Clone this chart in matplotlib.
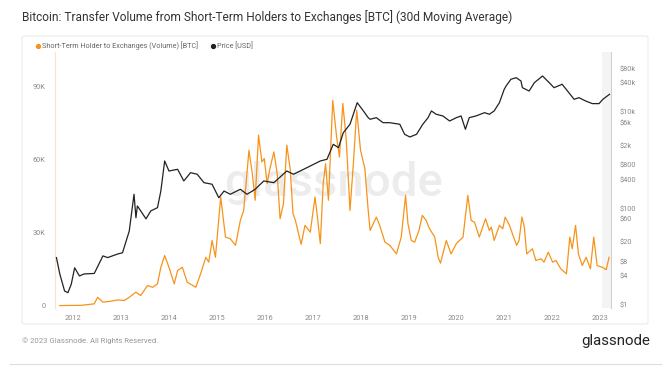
import matplotlib.pyplot as plt
from matplotlib.patches import FancyBboxPatch
from matplotlib.lines import Line2D

# short-term holder -> exchanges volume, 30d MA [BTC]
stfh_years = [2011.72, 2012.17, 2012.44, 2012.51, 2012.62, 2012.79, 2012.93, 2013.07, 2013.17, 2013.31,
              2013.41, 2013.55, 2013.66, 2013.76, 2013.83, 2013.91, 2014.00, 2014.11, 2014.18, 2014.28,
              2014.38, 2014.56, 2014.66, 2014.77, 2014.83, 2014.90, 2014.97, 2015.08, 2015.18, 2015.28,
              2015.39, 2015.49, 2015.56, 2015.67, 2015.74, 2015.80, 2015.87, 2015.94, 2015.99, 2016.05,
              2016.10, 2016.19, 2016.26, 2016.32, 2016.39, 2016.46, 2016.53, 2016.59, 2016.64, 2016.76,
              2016.84, 2016.95, 2017.05, 2017.10, 2017.16, 2017.22, 2017.27, 2017.33, 2017.42, 2017.50,
              2017.56, 2017.63, 2017.70, 2017.78, 2017.85, 2017.92, 2018.00, 2018.09, 2018.16, 2018.20,
              2018.33, 2018.40, 2018.51, 2018.61, 2018.75, 2018.85, 2018.94, 2018.99, 2019.06, 2019.13,
              2019.22, 2019.29, 2019.37, 2019.44, 2019.55, 2019.62, 2019.67, 2019.79, 2019.89, 2020.00,
              2020.14, 2020.24, 2020.31, 2020.38, 2020.48, 2020.61, 2020.69, 2020.73, 2020.79, 2020.90,
              2020.97, 2021.02, 2021.11, 2021.17, 2021.26, 2021.31, 2021.37, 2021.42, 2021.47, 2021.59,
              2021.66, 2021.77, 2021.83, 2021.92, 2022.01, 2022.08, 2022.18, 2022.30, 2022.37, 2022.42,
              2022.49, 2022.55, 2022.63, 2022.71, 2022.80, 2022.87, 2022.94, 2023.05, 2023.13, 2023.19]
stfh_volume = [0, 100, 700, 3400, 1400, 1800, 2300, 2100, 3400, 5500,
               4100, 8200, 7500, 8900, 15700, 20500, 15700, 8900, 14400, 15700,
               9600, 7500, 13000, 19800, 17800, 26700, 19800, 44500, 28100, 27400,
               24700, 34900, 39000, 63700, 54100, 43200, 69900, 58900, 60300, 50000,
               55500, 63000, 54100, 35600, 41800, 65800, 56200, 37700, 34900, 25100,
               32900, 30100, 44500, 36300, 25400, 50000, 58200, 43200, 84200, 69200,
               60900, 82900, 68500, 39000, 58200, 80100, 63700, 56200, 39000, 30800,
               36300, 32900, 26000, 24700, 21200, 28100, 45200, 33600, 26700, 26000,
               30800, 37000, 34900, 31500, 28100, 19800, 17400, 26700, 21200, 25400,
               28100, 45200, 34900, 34200, 28100, 35600, 30800, 32200, 26700, 32900,
               31500, 36300, 32900, 29500, 24700, 26700, 36300, 32200, 21200, 23300,
               18500, 19200, 17800, 21900, 17800, 18500, 15100, 13000, 28100, 23300,
               32900, 21200, 16400, 19800, 15100, 28100, 16400, 15700, 14700, 19800]

# price [USD]
price_years = [2011.65, 2011.72, 2011.82, 2011.89, 2011.96, 2012.03, 2012.13, 2012.23, 2012.44, 2012.62,
               2012.72, 2012.93, 2013.03, 2013.17, 2013.27, 2013.31, 2013.34, 2013.52, 2013.62, 2013.76,
               2013.83, 2013.91, 2014.00, 2014.18, 2014.31, 2014.45, 2014.59, 2014.73, 2014.90, 2015.04,
               2015.15, 2015.28, 2015.49, 2015.63, 2015.80, 2015.98, 2016.19, 2016.46, 2016.60, 2016.88,
               2017.16, 2017.30, 2017.43, 2017.54, 2017.64, 2017.78, 2017.93, 2018.06, 2018.16, 2018.20,
               2018.33, 2018.47, 2018.61, 2018.82, 2018.92, 2019.03, 2019.17, 2019.30, 2019.41, 2019.48,
               2019.58, 2019.72, 2019.86, 2020.00, 2020.10, 2020.19, 2020.27, 2020.41, 2020.59, 2020.69,
               2020.79, 2020.90, 2021.00, 2021.04, 2021.14, 2021.25, 2021.35, 2021.38, 2021.52, 2021.63,
               2021.80, 2021.94, 2022.04, 2022.21, 2022.35, 2022.46, 2022.56, 2022.70, 2022.84, 2022.98,
               2023.06, 2023.20]
price_usd = [9.6, 4.4, 1.95, 1.8, 2.7, 5.9, 4.0, 4.4, 4.5, 10.4,
             9.6, 11.4, 12.1, 34, 197, 64, 113, 61, 89, 104,
             230, 965, 598, 649, 372, 552, 512, 343, 318, 167,
             230, 197, 250, 197, 250, 372, 343, 598, 512, 701,
             965, 1047, 2140, 1820, 3720, 5560, 15600, 10500, 7620, 7060,
             7620, 6000, 6000, 5560, 3450, 3030, 3450, 5560, 7620, 10500,
             8960, 8270, 6500, 7620, 8270, 4380, 7620, 8270, 9680, 8960,
             10500, 15600, 29500, 34600, 47600, 51400, 43900, 31900, 27200, 40500,
             55700, 40500, 31900, 37500, 25100, 18300, 19800, 16900, 14900, 14900,
             18300, 23300]

vol_ticks = [0, 30000, 60000, 90000]
vol_labels = ['0', '30K', '60K', '90K']
price_ticks = [1, 4, 8, 20, 60, 100, 400, 800, 2000, 6000, 10000, 40000, 80000]
price_labels = ['$1', '$4', '$8', '$20', '$60', '$100', '$400', '$800', '$2k', '$6k', '$10k', '$40k', '$80k']
year_ticks = list(range(2012, 2024))

ORANGE = '#f7931a'
GREY = '#8a8a8a'

plt.rcParams['font.family'] = ['Roboto', 'DejaVu Sans']

fig = plt.figure(figsize=(6.71, 3.73), dpi=100)
fig.patch.set_facecolor('white')

# card behind the chart
card = FancyBboxPatch((22 / 671, 1 - 324 / 373), 626 / 671, 288 / 373,
                      boxstyle='round,pad=0,rounding_size=0.004', transform=fig.transFigure,
                      facecolor='white', edgecolor='#ececec', linewidth=0.8, zorder=-10)
fig.patches.append(card)

fig.text(22 / 671, 1 - 17 / 373, 'Bitcoin: Transfer Volume from Short-Term Holders to Exchanges [BTC] (30d Moving Average)',
         fontsize=8.6, color='#333333', va='center', ha='left')

ax = fig.add_axes([55 / 671, 1 - 308 / 373, 556 / 671, 256 / 373])
ax.set_facecolor('none')
ax.text(0.5, 0.49, 'glassnode', transform=ax.transAxes, fontsize=34, color='#ececec',
        ha='center', va='center', zorder=0, fontweight='medium')
ax.axvspan(2023.04, 2023.25, color='#f4f4f4', zorder=0, lw=0)
ax.plot(stfh_years, stfh_volume, color=ORANGE, lw=0.9, zorder=3)
ax.set_xlim(2011.62, 2023.23)
ax.set_ylim(-1000, 104000)
ax.set_yticks(vol_ticks)
ax.set_yticklabels(vol_labels)
ax.set_xticks(year_ticks)
ax.set_xticklabels([str(y) for y in year_ticks])
ax.tick_params(axis='both', length=0, labelsize=5.3, labelcolor=GREY)
ax.tick_params(axis='y', pad=7)
ax.tick_params(axis='x', pad=5)
for s in ['top', 'right', 'bottom']:
    ax.spines[s].set_visible(False)
ax.spines['left'].set_color('#fbe3c4')
ax.spines['left'].set_linewidth(0.8)

ax2 = ax.twinx()
ax2.plot(price_years, price_usd, color='#222222', lw=0.9)
ax2.set_yscale('log')
ax2.set_ylim(0.866, 175000)
ax2.set_yticks(price_ticks)
ax2.set_yticklabels(price_labels)
ax2.minorticks_off()
ax2.tick_params(axis='y', length=0, labelsize=5.3, labelcolor=GREY, pad=6)
for s in ['top', 'left', 'bottom']:
    ax2.spines[s].set_visible(False)
ax2.spines['right'].set_color('#d0d0d0')
ax2.spines['right'].set_linewidth(0.8)

# legend row
fig.lines.append(Line2D([38 / 671], [1 - 46 / 373], marker='o', markersize=2.8, color=ORANGE,
                        transform=fig.transFigure, lw=0))
fig.text(42 / 671, 1 - 46 / 373, 'Short-Term Holder to Exchanges (Volume) [BTC]', fontsize=5.2,
         color='#666666', va='center')
fig.lines.append(Line2D([213 / 671], [1 - 46 / 373], marker='o', markersize=2.8, color='#222222',
                        transform=fig.transFigure, lw=0))
fig.text(217 / 671, 1 - 46 / 373, 'Price [USD]', fontsize=5.2, color='#666666', va='center')

# footer
fig.text(22 / 671, 1 - 341 / 373, '\u00a9 2023 Glassnode. All Rights Reserved.', fontsize=5.6,
         color='#999999', va='center')
fig.text(650 / 671, 1 - 341 / 373, 'glassnode', fontsize=10.8, color='#222222', va='center', ha='right')
fig.lines.append(Line2D([10 / 671, 661 / 671], [1 - 364 / 373, 1 - 364 / 373], color='#dddddd',
                        lw=0.8, transform=fig.transFigure))

fig.savefig('out.png', dpi=100)
